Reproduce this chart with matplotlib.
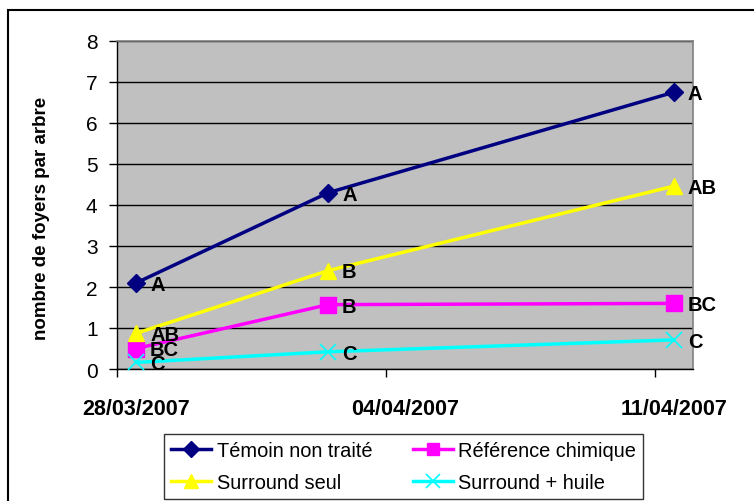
import matplotlib
matplotlib.use("Agg")
import matplotlib.pyplot as plt
import matplotlib.dates as mdates
from matplotlib.patches import Rectangle
from matplotlib.ticker import FixedLocator, NullFormatter
import pandas as pd

plt.rcParams['font.family'] = ['Liberation Sans', 'DejaVu Sans']

dates = ['2007-03-28', '2007-04-02', '2007-04-11']
tick_dates = ['2007-03-28', '2007-04-04', '2007-04-11']
tick_labels = ['28/03/2007', '04/04/2007', '11/04/2007']

series_names = ['Témoin non traité', 'Référence chimique', 'Surround seul', 'Surround + huile']
temoin = [2.1, 4.3, 6.75]
reference = [0.5, 1.57, 1.6]
surround_seul = [0.87, 2.4, 4.46]
surround_huile = [0.16, 0.42, 0.71]

letters_temoin = ['A', 'A', 'A']
letters_reference = ['BC', 'B', 'BC']
letters_seul = ['AB', 'B', 'AB']
letters_huile = ['C', 'C', 'C']

y_ticks = [0, 1, 2, 3, 4, 5, 6, 7, 8]
y_label = 'nombre de foyers par arbre'

W, H = 754, 502
fig = plt.figure(figsize=(W / 100, H / 100), dpi=100)
fig.patch.set_facecolor('white')

# outer border
fig.patches.append(Rectangle((8 / W, -0.05), 1.2, 1 - 11 / H + 0.05, transform=fig.transFigure,
                             fill=False, edgecolor='black', linewidth=1.5, zorder=0))

ax = fig.add_axes([117 / W, 1 - 370 / H, (693 - 117) / W, (370 - 42) / H])
ax.set_facecolor('#C0C0C0')

x = mdates.date2num(pd.to_datetime(dates))
xt = mdates.date2num(pd.to_datetime(tick_dates))

styles = [
    (temoin, '#000080', 'D', 9, letters_temoin),
    (reference, '#FF00FF', 's', 11, letters_reference),
    (surround_seul, '#FFFF00', '^', 12, letters_seul),
    (surround_huile, '#00FFFF', 'x', 12, letters_huile),
]
handles = []
for (vals, col, mk, ms, letters), name in zip(styles, series_names):
    kw = dict(markeredgewidth=1.2) if mk == 'x' else dict(markeredgecolor=col)
    h, = ax.plot(x, vals, color=col, marker=mk, markersize=ms, linewidth=2.5,
                 markerfacecolor=col, label=name, zorder=3, clip_on=False, **kw)
    handles.append(h)
    for xi, yi, lt in zip(x, vals, letters):
        ax.annotate(lt, (xi, yi), xytext=(10, -1), textcoords='offset points',
                    ha='left', va='center', fontsize=14.5, fontweight='bold',
                    color='black', zorder=4, annotation_clip=False)

ax.set_xlim(x[0] - 0.5, x[-1] + 0.5)
ax.set_ylim(0, 8)
ax.set_yticks(y_ticks)
ax.set_yticklabels([str(v) for v in y_ticks], fontsize=15)
ax.yaxis.grid(True, color='black', linewidth=1)
ax.set_axisbelow(True)

# labels at dates, tick marks at day boundaries
ax.xaxis.set_major_locator(FixedLocator(list(xt)))
ax.set_xticklabels(tick_labels, fontsize=15.5, fontweight='bold')
ax.xaxis.set_minor_locator(FixedLocator([x[0] - 0.5 + 7 * k for k in range(3)]))
ax.xaxis.set_minor_formatter(NullFormatter())
ax.tick_params(axis='x', which='major', length=0, pad=21)
ax.tick_params(axis='x', which='minor', length=6, width=1, direction='out', color='black')
ax.tick_params(axis='y', length=6, width=1, direction='out', pad=8)

for s in ['left', 'bottom']:
    ax.spines[s].set_color('black')
    ax.spines[s].set_linewidth(1)
for s in ['top', 'right']:
    ax.spines[s].set_color('#808080')
    ax.spines[s].set_linewidth(1.2)

fig.text(42 / W, 1 - 218 / H, y_label, rotation=90, ha='center', va='center',
         fontsize=13.5, fontweight='bold')

order = [0, 2, 1, 3]
leg = fig.legend([handles[i] for i in order], [series_names[i] for i in order],
                 loc='upper left', bbox_to_anchor=(164 / W, 1 - 435 / H), ncol=2,
                 fontsize=14.4, frameon=True, fancybox=False, edgecolor='black',
                 handlelength=2.0, handletextpad=0.3, columnspacing=2.0,
                 borderpad=0.35, labelspacing=0.65, borderaxespad=0, markerscale=0.85)
leg.get_frame().set_linewidth(1)

fig.savefig('out.png', dpi=100)
